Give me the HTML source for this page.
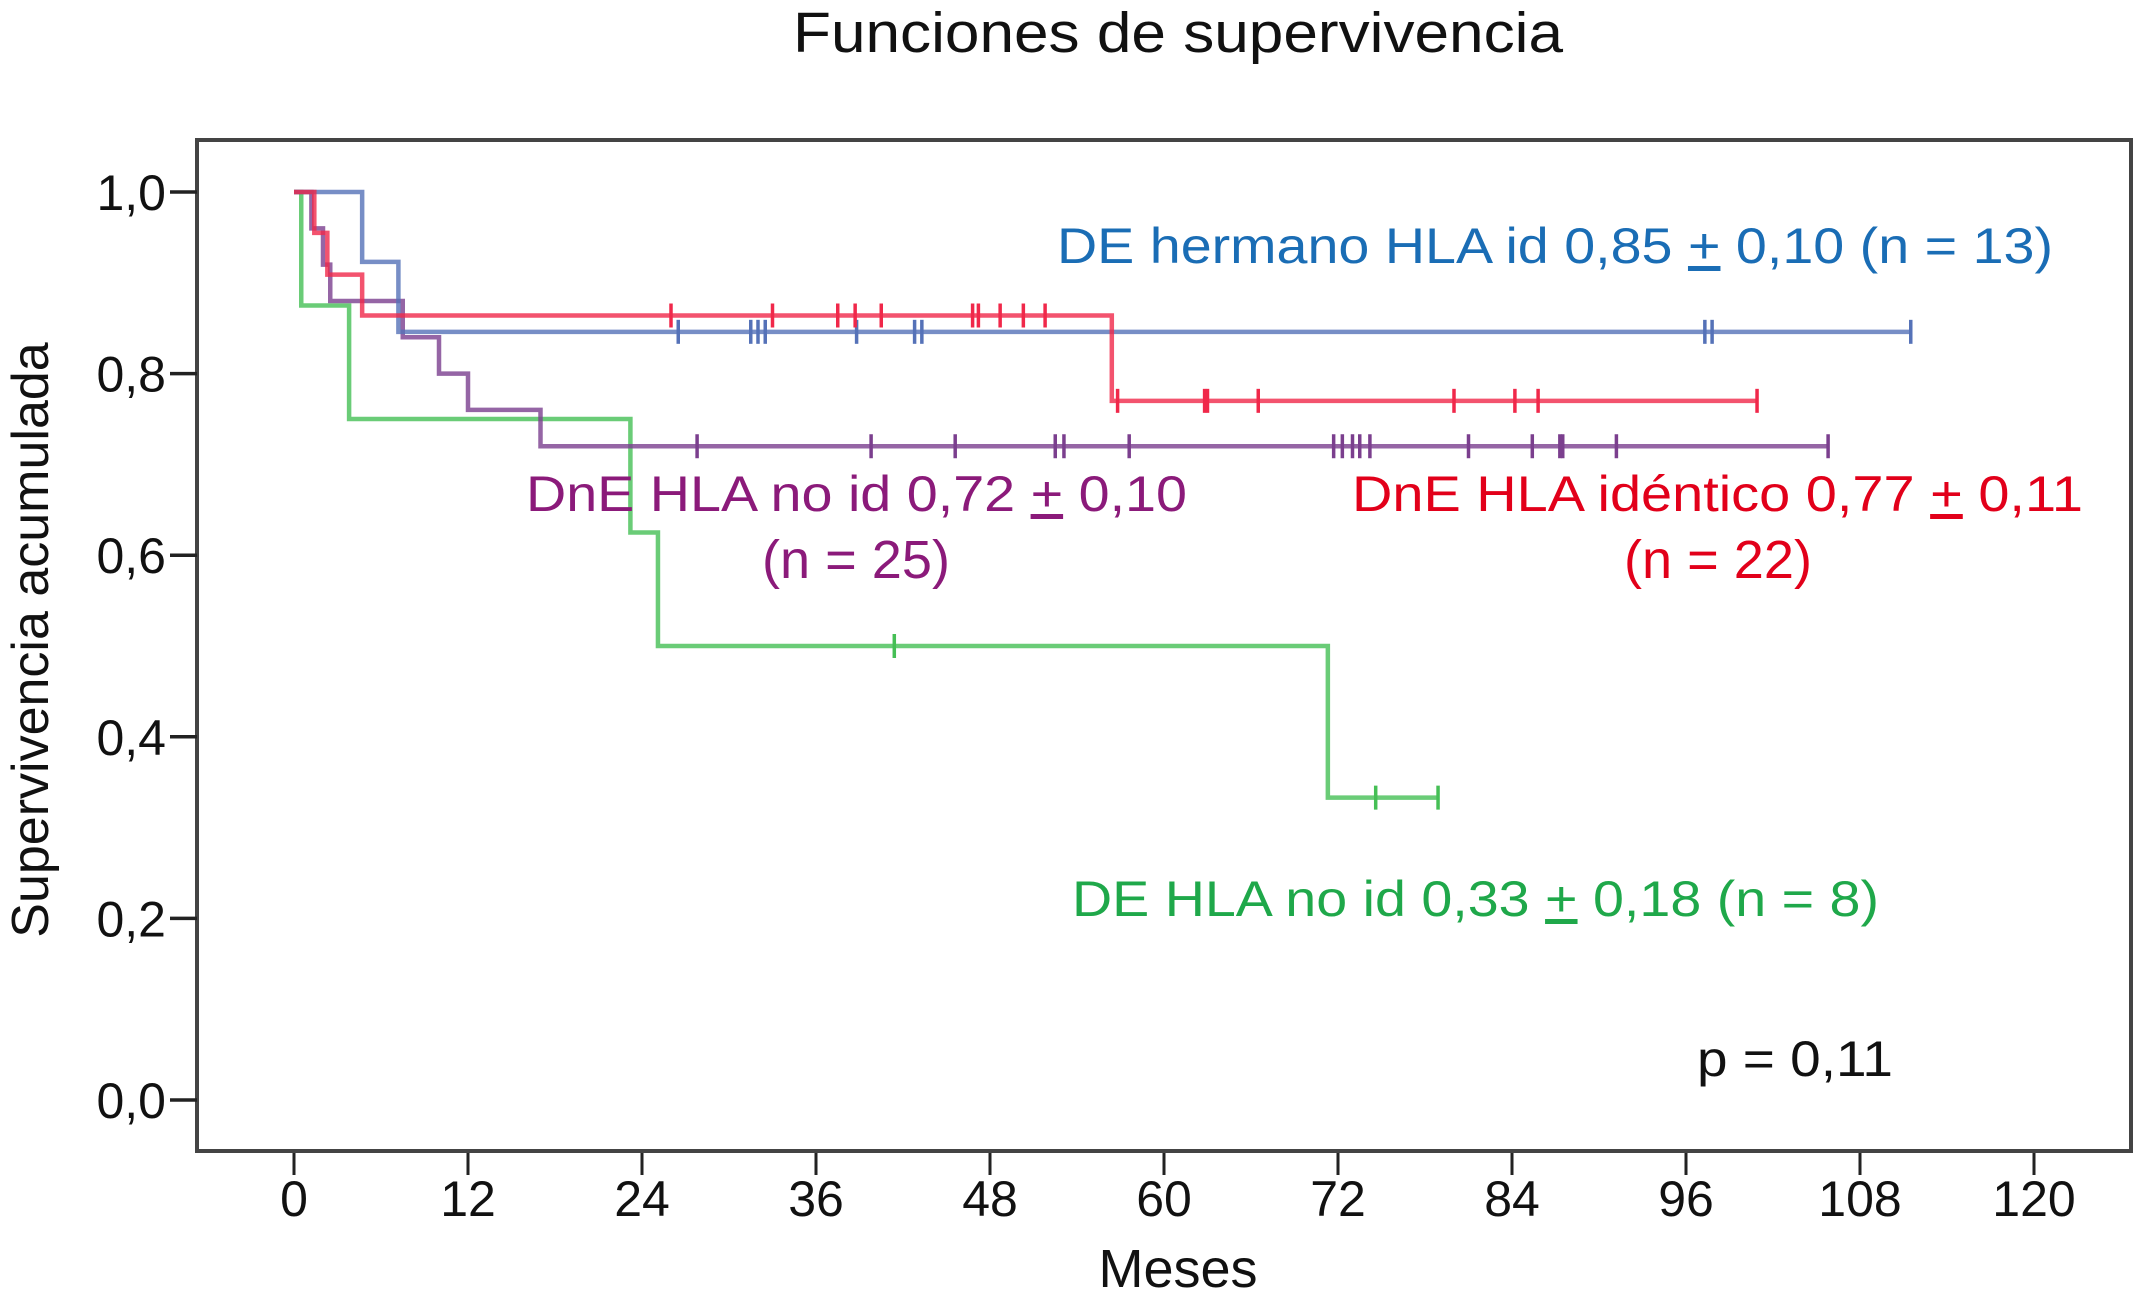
<!DOCTYPE html>
<html><head><meta charset="utf-8"><style>
html,body{margin:0;padding:0;background:#fff;}
svg{display:block;}
text{font-family:"Liberation Sans Narrow","Liberation Sans",sans-serif;}
</style></head><body>
<svg id="chart" width="2135" height="1301" viewBox="0 0 2135 1301" xmlns="http://www.w3.org/2000/svg">
<rect x="0" y="0" width="2135" height="1301" fill="#fff"/>
<text x="1178" y="52" font-size="57" text-anchor="middle" textLength="770" lengthAdjust="spacingAndGlyphs" fill="#111">Funciones de supervivencia</text>
<rect x="197" y="140" width="1934" height="1011" fill="none" stroke="#444" stroke-width="4"/>
<g id="axes"></g>
<g id="series"></g>
<text x="1057" y="263" font-size="50" fill="#1a6db5" textLength="996" lengthAdjust="spacingAndGlyphs">DE hermano HLA id 0,85 <tspan text-decoration="underline">+</tspan> 0,10 (n = 13)</text>
<text x="526" y="511" font-size="50" fill="#8b1a7a" textLength="661" lengthAdjust="spacingAndGlyphs">DnE HLA no id 0,72 <tspan text-decoration="underline">+</tspan> 0,10</text>
<text x="856" y="578" font-size="54" fill="#8b1a7a" text-anchor="middle" textLength="188" lengthAdjust="spacingAndGlyphs">(n = 25)</text>
<text x="1352" y="511" font-size="50" fill="#e2001a" textLength="731" lengthAdjust="spacingAndGlyphs">DnE HLA idéntico 0,77 <tspan text-decoration="underline">+</tspan> 0,11</text>
<text x="1718" y="578" font-size="54" fill="#e2001a" text-anchor="middle" textLength="188" lengthAdjust="spacingAndGlyphs">(n = 22)</text>
<text x="1072" y="916" font-size="50" fill="#1fa84a" textLength="807" lengthAdjust="spacingAndGlyphs">DE HLA no id 0,33 <tspan text-decoration="underline">+</tspan> 0,18 (n = 8)</text>
<text x="1697" y="1076" font-size="50" fill="#111" textLength="196" lengthAdjust="spacingAndGlyphs">p = 0,11</text>
<text x="1178" y="1287" font-size="54" text-anchor="middle" fill="#111">Meses</text>
<text x="0" y="0" font-size="52" text-anchor="middle" fill="#111" transform="translate(48,640) rotate(-90)">Supervivencia acumulada</text>
</svg>
<script>
const xTicks=[0,12,24,36,48,60,72,84,96,108,120];
const yTicks=[0,0.2,0.4,0.6,0.8,1.0];
const yTickLabels=["0,0","0,2","0,4","0,6","0,8","1,0"];
const blueTimes=[0,4.7,7.2,111.5];
const blueSurv=[1.0,0.923,0.846,0.846];
const blueCens=[26.5,31.5,32,32.5,38.8,42.8,43.3,97.3,97.8,111.5];
const redTimes=[0,1.4,2.3,4.7,56.4,100.9];
const redSurv=[1.0,0.955,0.909,0.864,0.77,0.77];
const redCens=[26,33,37.5,38.7,40.5,46.8,47.2,48.7,50.3,51.8,56.8,62.8,63,66.5,80,84.2,85.8,100.9];
const purpleTimes=[0,1.2,2,2.5,7.5,10,12,17,105.8];
const purpleSurv=[1.0,0.96,0.92,0.88,0.84,0.80,0.76,0.72,0.72];
const purpleCens=[27.8,39.8,45.6,52.5,53.1,57.6,71.7,72.3,73,73.5,74.2,81,85.4,87.3,87.5,91.2,105.8];
const greenTimes=[0,0.5,3.8,23.2,25.1,71.3,78.9];
const greenSurv=[1.0,0.875,0.75,0.625,0.5,0.333,0.333];
const greenCens=[41.4,74.6,78.9];

const NS="http://www.w3.org/2000/svg";
function xs(t){return 294+t*(2034-294)/120;}
function ys(v){return 1100-v*(1100-192);}
function mk(tag,attrs,parent){const e=document.createElementNS(NS,tag);for(const k in attrs)e.setAttribute(k,attrs[k]);parent.appendChild(e);return e;}
const axes=document.getElementById('axes');
xTicks.forEach(t=>{
  const l=mk('line',{x1:xs(t),x2:xs(t),y1:1153,y2:1175,stroke:'#222','stroke-width':3},axes);
  
  
  const tx=mk('text',{x:xs(t),y:1216,'font-size':50,'text-anchor':'middle',fill:'#111'},axes);
  tx.textContent=String(t);
  
  
});
yTicks.forEach((v,i)=>{
  const l=mk('line',{x1:170,x2:197,y1:ys(v),y2:ys(v),stroke:'#222','stroke-width':3.5},axes);
  
  
  const tx=mk('text',{x:166,y:ys(v)+18,'font-size':50,'text-anchor':'end',fill:'#111'},axes);
  tx.textContent=yTickLabels[i];
  
  
});
const g=document.getElementById('series');
function survAt(times,surv,t){let s=surv[0];for(let i=0;i<times.length;i++){if(times[i]<=t)s=surv[i];}return s;}
function draw(name,times,surv,cens,color){
  let d='M'+xs(times[0])+','+ys(surv[0]);
  for(let i=1;i<times.length;i++){d+=' H'+xs(times[i])+' V'+ys(surv[i]);}
  const p=mk('path',{d:d,fill:'none',stroke:color,'stroke-width':4.5,'stroke-opacity':0.8},g);
  
  
  cens.forEach(c=>{
    const y=ys(survAt(times,surv,c));
    const m=mk('line',{x1:xs(c),x2:xs(c),y1:y-12,y2:y+12,stroke:color,'stroke-width':3.5},g);
    
    
  });
}
draw('green',greenTimes,greenSurv,greenCens,'#45bf55');
draw('purple',purpleTimes,purpleSurv,purpleCens,'#7b3f8e');
draw('blue',blueTimes,blueSurv,blueCens,'#5572b8');
draw('red',redTimes,redSurv,redCens,'#f0284a');
</script>
</body></html>
